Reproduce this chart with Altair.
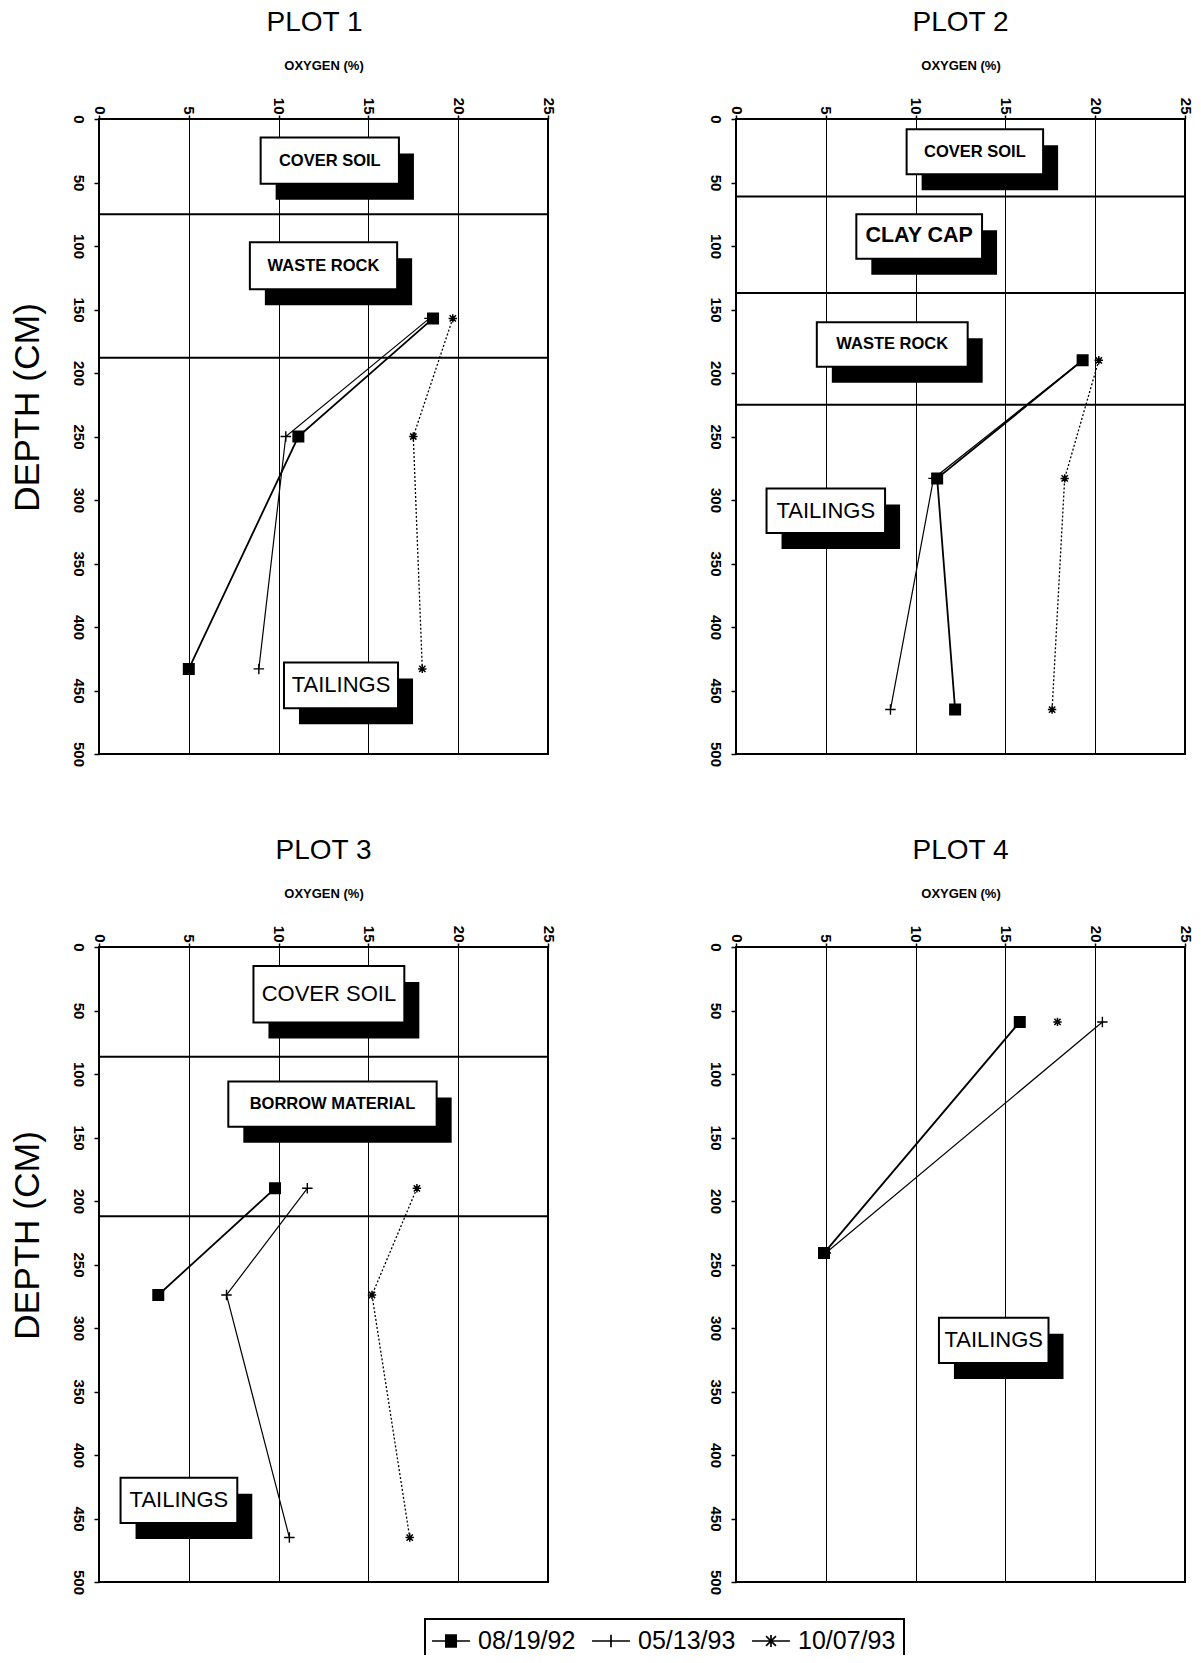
import altair as alt
import pandas as pd

FONT = "Liberation Sans, Arial, Helvetica, sans-serif"

SERIES = ["08/19/92", "05/13/93", "10/07/93"]
X_TICKS = [0, 5, 10, 15, 20, 25]
Y_TICKS = [0, 50, 100, 150, 200, 250, 300, 350, 400, 450, 500]
PLOT_TITLES = ["PLOT 1", "PLOT 2", "PLOT 3", "PLOT 4"]

# ---- PLOT 1 ----
P1_DEPTH = [157, 250, 433]
P1_O2_081992 = [18.6, 11.1, 5.0]
P1_O2_051393 = [18.4, 10.4, 8.9]
P1_O2_100793 = [19.7, 17.5, 18.0]
P1_LAYER_BOUNDS = [75, 188]
P1_LABELS = ["COVER SOIL", "WASTE ROCK", "TAILINGS"]
P1_FACE = ["small", "small", "large"]
P1_BOX_O2_LO = [9.0, 8.4, 10.3]
P1_BOX_O2_HI = [16.7, 16.6, 16.65]
P1_BOX_D_LO = [14.5, 97, 428]
P1_BOX_D_HI = [51, 134, 464]

# ---- PLOT 2 ----
P2_DEPTH = [190, 283, 465]
P2_O2_081992 = [19.3, 11.2, 12.2]
P2_O2_051393 = [19.3, 11.0, 8.6]
P2_O2_100793 = [20.2, 18.3, 17.6]
P2_LAYER_BOUNDS = [61, 137, 225]
P2_LABELS = ["COVER SOIL", "CLAY CAP", "WASTE ROCK", "TAILINGS"]
P2_FACE = ["small", "largebold", "small", "large"]
P2_BOX_O2_LO = [9.5, 6.7, 4.5, 1.7]
P2_BOX_O2_HI = [17.1, 13.7, 12.9, 8.3]
P2_BOX_D_LO = [8, 75, 160, 291]
P2_BOX_D_HI = [43.5, 110, 195, 326]

# ---- PLOT 3 ----
P3_DEPTH = [190, 274, 465]
P3_O2_081992 = [9.8, 3.3, None]
P3_O2_051393 = [11.6, 7.1, 10.6]
P3_O2_100793 = [17.7, 15.2, 17.3]
P3_LAYER_BOUNDS = [86.5, 212]
P3_LABELS = ["COVER SOIL", "BORROW MATERIAL", "TAILINGS"]
P3_FACE = ["large", "small", "large"]
P3_BOX_O2_LO = [8.6, 7.2, 1.2]
P3_BOX_O2_HI = [17.0, 18.8, 7.7]
P3_BOX_D_LO = [15, 106, 418]
P3_BOX_D_HI = [59.5, 141.5, 453.5]

# ---- PLOT 4 ----
P4_DEPTH = [59, 241]
P4_O2_081992 = [15.8, 4.9]
P4_O2_051393 = [20.4, 5.0]
P4_O2_100793 = [17.9, None]
P4_LAYER_BOUNDS = []
P4_LABELS = ["TAILINGS"]
P4_FACE = ["large"]
P4_BOX_O2_LO = [11.3]
P4_BOX_O2_HI = [17.4]
P4_BOX_D_LO = [292]
P4_BOX_D_HI = [327.6]

W, H = 449, 635

PLUS = "M-1,0H1M0,-1V1"
STAR = "M-1,0H1M0,-1V1M-0.75,-0.75L0.75,0.75M-0.75,0.75L0.75,-0.75"
# legend glyphs: a line stub with the marker on it (solid square drawn as hatch)
_sq = "".join("M-0.46,%.3fH0.46" % (-0.46 + 0.092 * k) for k in range(11))
LEG_SQUARE = "M-1.46,0H1.46" + _sq
LEG_PLUS = "M-1.46,0H1.46M0,-0.48V0.48"
LEG_STAR = "M-1.46,0H1.46M0,-0.46V0.46M-0.38,-0.38L0.38,0.38M-0.38,0.38L0.38,-0.38"

xs = alt.Scale(domain=[0, 25], nice=False, zero=False)
ys = alt.Scale(domain=[0, 500], nice=False, reverse=True)


def x_axis():
    return alt.Axis(
        orient="top", values=X_TICKS, labelAngle=90, labelAlign="right",
        labelBaseline="middle", labelFont=FONT, labelFontSize=15,
        labelFontWeight="bold", labelColor="black", labelPadding=1,
        labelFlush=False, labelOverlap=False,
        tickSize=4, tickColor="black", tickWidth=1.5, domain=False,
        grid=True, gridColor="black", gridWidth=1, gridOpacity=1,
        title="OXYGEN (%)", titleFont=FONT, titleFontSize=13,
        titleFontWeight="bold", titleColor="black", titleY=-54,
        titleBaseline="middle",
    )


def y_axis(with_title):
    kw = dict(
        orient="left", values=Y_TICKS, labelAngle=90, labelAlign="center",
        labelBaseline="middle", labelFont=FONT, labelFontSize=15,
        labelFontWeight="bold", labelColor="black", labelPadding=16,
        labelFlush=False, labelOverlap=False,
        tickSize=5, tickColor="black", tickWidth=1.5, domain=False, grid=False,
    )
    if with_title:
        kw.update(title="DEPTH (CM)", titleFont=FONT, titleFontSize=35.5,
                  titleFontWeight="normal", titleColor="black", titleAngle=270,
                  titleX=-72, titleY=288, titleBaseline="middle")
    else:
        kw.update(title=None)
    return alt.Axis(**kw)


SERIES_STYLE = {
    "08/19/92": dict(line=dict(strokeWidth=1.8),
                     point=dict(shape="square", size=100, filled=True)),
    "05/13/93": dict(line=dict(strokeWidth=1.2),
                     point=dict(shape=PLUS, size=110, filled=False, strokeWidth=1.4)),
    "10/07/93": dict(line=dict(strokeWidth=1.3, strokeDash=[2, 2]),
                     point=dict(shape=STAR, size=70, filled=False, strokeWidth=1.5)),
}

FACE_STYLE = {
    "small": dict(fontSize=16.5, fontWeight="bold"),
    "large": dict(fontSize=22, fontWeight="normal"),
    "largebold": dict(fontSize=21.5, fontWeight="bold"),
}


def panel(idx, depth, a, b, c, bounds, labels, faces, xlo, xhi, dlo, dhi,
          ytitle, legend_layer, title_dx=0):
    rows = []
    for s, vals in zip(SERIES, (a, b, c)):
        for d, v in zip(depth, vals):
            if v is not None:
                rows.append({"series": s, "o2": v, "depth": d})
    pts = pd.DataFrame(rows)
    boxes = pd.DataFrame({"label": labels, "face": faces, "x0": xlo,
                          "x1": xhi, "d0": dlo, "d1": dhi})
    xa = x_axis()
    ya = y_axis(ytitle)

    box_base = alt.Chart(boxes).encode(
        x=alt.X("x0:Q", scale=xs, axis=xa), x2="x1:Q",
        y=alt.Y("d0:Q", scale=ys, axis=ya), y2="d1:Q",
    )
    layers = [
        box_base.mark_rect(color="black", xOffset=15, x2Offset=15,
                           yOffset=16, y2Offset=16),
        box_base.mark_rect(fill="white", stroke="black", strokeWidth=2),
    ]
    for face, st in FACE_STYLE.items():
        if face in faces:
            layers.append(
                alt.Chart(boxes).transform_filter(alt.datum.face == face)
                .transform_calculate(xc="(datum.x0 + datum.x1) / 2",
                                     dc="(datum.d0 + datum.d1) / 2")
                .mark_text(font=FONT, color="black", align="center",
                           baseline="middle", **st)
                .encode(x=alt.X("xc:Q", scale=xs, axis=xa),
                        y=alt.Y("dc:Q", scale=ys, axis=ya), text="label:N")
            )
    if bounds:
        layers.append(
            alt.Chart(pd.DataFrame({"depth": bounds}))
            .mark_rule(color="black", strokeWidth=2)
            .encode(y=alt.Y("depth:Q", scale=ys, axis=ya))
        )
    for s in SERIES:
        st = SERIES_STYLE[s]
        sub = alt.Chart(pts).transform_filter(alt.datum.series == s)
        enc = dict(x=alt.X("o2:Q", scale=xs, axis=xa),
                   y=alt.Y("depth:Q", scale=ys, axis=ya))
        layers.append(sub.mark_line(color="black", **st["line"])
                      .encode(order="depth:Q", **enc))
    for s in SERIES:
        st = SERIES_STYLE[s]
        sub = alt.Chart(pts).transform_filter(alt.datum.series == s)
        enc = dict(x=alt.X("o2:Q", scale=xs, axis=xa),
                   y=alt.Y("depth:Q", scale=ys, axis=ya))
        layers.append(sub.mark_point(color="black", stroke="black",
                                     opacity=1, **st["point"]).encode(**enc))
    if legend_layer:
        layers.append(
            alt.Chart(pts).mark_point(opacity=0, filled=False, color="black")
            .encode(
                x=alt.X("o2:Q", scale=xs, axis=xa),
                y=alt.Y("depth:Q", scale=ys, axis=ya),
                shape=alt.Shape(
                    "series:N",
                    scale=alt.Scale(domain=SERIES,
                                    range=[LEG_SQUARE, LEG_PLUS, LEG_STAR]),
                    legend=alt.Legend(
                        title=None, orient="none", legendX=326, legendY=1500,
                        direction="horizontal", symbolSize=676,
                        symbolOffset=4, symbolStrokeWidth=1.7,
                        symbolStrokeColor="black", symbolOpacity=1,
                        labelFont=FONT, labelFontSize=25, labelColor="black",
                        labelOffset=13, columnPadding=12, padding=8,
                        strokeColor="black", labelLimit=0,
                        labelExpr="datum.label == '10/07/93' ? datum.label + '   ' : datum.label",
                    ),
                ),
            )
        )
    return alt.layer(*layers).properties(
        width=W, height=H,
        title=alt.TitleParams(text=PLOT_TITLES[idx], font=FONT, fontSize=28,
                              fontWeight="normal", color="black",
                              anchor="middle", frame="group", offset=-6,
                              baseline="bottom", dx=title_dx),
    )


p1 = panel(0, P1_DEPTH, P1_O2_081992, P1_O2_051393, P1_O2_100793,
           P1_LAYER_BOUNDS, P1_LABELS, P1_FACE, P1_BOX_O2_LO, P1_BOX_O2_HI,
           P1_BOX_D_LO, P1_BOX_D_HI, True, False, title_dx=-9)
p2 = panel(1, P2_DEPTH, P2_O2_081992, P2_O2_051393, P2_O2_100793,
           P2_LAYER_BOUNDS, P2_LABELS, P2_FACE, P2_BOX_O2_LO, P2_BOX_O2_HI,
           P2_BOX_D_LO, P2_BOX_D_HI, False, False)
p3 = panel(2, P3_DEPTH, P3_O2_081992, P3_O2_051393, P3_O2_100793,
           P3_LAYER_BOUNDS, P3_LABELS, P3_FACE, P3_BOX_O2_LO, P3_BOX_O2_HI,
           P3_BOX_D_LO, P3_BOX_D_HI, True, True)
p4 = panel(3, P4_DEPTH, P4_O2_081992, P4_O2_051393, P4_O2_100793,
           P4_LAYER_BOUNDS, P4_LABELS, P4_FACE, P4_BOX_O2_LO, P4_BOX_O2_HI,
           P4_BOX_D_LO, P4_BOX_D_HI, False, False)

chart = (
    alt.ConcatChart(concat=[p1, p2, p3, p4], columns=2,
                    spacing=alt.RowColnumber(row=193, column=188),
                    bounds="flush")
    .properties(padding={"left": 1, "top": 0, "right": 0, "bottom": -8},
                background="white")
    .configure_view(stroke="black", strokeWidth=2)
    .configure_legend(strokeWidth=2)
)

chart.save("out.html", embed_options={"renderer": "svg", "actions": False})
